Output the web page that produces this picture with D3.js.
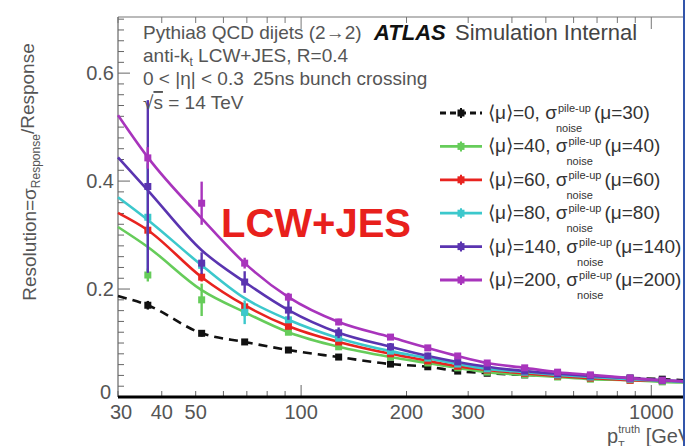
<!DOCTYPE html>
<html>
<head>
<meta charset="utf-8">
<script src="https://cdn.jsdelivr.net/npm/d3@7"></script>
<style>
  body { margin: 0; background: #fff; }
  svg { display: block; font-family: "Liberation Sans", Arial, sans-serif; }
</style>
</head>
<body>
<div id="chart-area"></div>
<script>
const ptPoints = [36.5, 52, 69, 92, 128, 180, 230, 280, 340, 435, 540, 670, 870, 1075]
const ptCurve = [30, 36.5, 52, 69, 92, 128, 180, 230, 280, 340, 435, 540, 670, 870, 1075, 1240]

// fit curves
const curveMu0 = [0.187, 0.170, 0.118, 0.102, 0.087, 0.074, 0.061, 0.056, 0.048, 0.044, 0.041, 0.039, 0.037, 0.035, 0.033, 0.031]
const curveMu40 = [0.315, 0.278, 0.198, 0.157, 0.120, 0.093, 0.074, 0.063, 0.054, 0.046, 0.041, 0.037, 0.033, 0.031, 0.028, 0.027]
const curveMu60 = [0.341, 0.309, 0.222, 0.170, 0.131, 0.102, 0.080, 0.067, 0.057, 0.050, 0.044, 0.039, 0.035, 0.031, 0.030, 0.028]
const curveMu80 = [0.370, 0.328, 0.244, 0.183, 0.143, 0.109, 0.085, 0.072, 0.061, 0.052, 0.046, 0.041, 0.037, 0.033, 0.030, 0.028]
const curveMu140 = [0.444, 0.383, 0.272, 0.213, 0.161, 0.119, 0.093, 0.076, 0.065, 0.056, 0.048, 0.043, 0.039, 0.035, 0.031, 0.029]
const curveMu200 = [0.522, 0.444, 0.331, 0.248, 0.185, 0.139, 0.111, 0.091, 0.076, 0.063, 0.054, 0.046, 0.041, 0.035, 0.031, 0.029]

// measured points and their errors
const valMu0 = [0.170, 0.118, 0.102, 0.087, 0.074, 0.061, 0.056, 0.048, 0.044, 0.041, 0.039, 0.037, 0.035, 0.033]
const errMu0 = [0.008, 0.006, 0.005, 0.004, 0.004, 0.003, 0.003, 0.003, 0.003, 0.003, 0.003, 0.003, 0.003, 0.003]
const valMu40 = [0.226, 0.180, 0.157, 0.120, 0.093, 0.074, 0.063, 0.054, 0.046, 0.041, 0.037, 0.033, 0.031, 0.028]
const errMu40 = [0.012, 0.030, 0.008, 0.005, 0.004, 0.004, 0.003, 0.003, 0.003, 0.003, 0.003, 0.003, 0.003, 0.003]
const valMu60 = [0.309, 0.222, 0.167, 0.131, 0.102, 0.080, 0.067, 0.057, 0.050, 0.044, 0.039, 0.035, 0.031, 0.030]
const errMu60 = [0.010, 0.008, 0.006, 0.005, 0.004, 0.004, 0.003, 0.003, 0.003, 0.003, 0.003, 0.003, 0.003, 0.003]
const valMu80 = [0.333, 0.244, 0.157, 0.143, 0.109, 0.085, 0.072, 0.061, 0.052, 0.046, 0.041, 0.037, 0.033, 0.030]
const errMu80 = [0.100, 0.010, 0.022, 0.006, 0.005, 0.004, 0.003, 0.003, 0.003, 0.003, 0.003, 0.003, 0.003, 0.003]
const valMu140 = [0.390, 0.248, 0.213, 0.161, 0.119, 0.093, 0.076, 0.065, 0.056, 0.048, 0.043, 0.039, 0.035, 0.031]
const errMu140 = [0.160, 0.020, 0.020, 0.018, 0.010, 0.007, 0.006, 0.005, 0.004, 0.004, 0.003, 0.003, 0.003, 0.003]
const valMu200 = [0.443, 0.359, 0.248, 0.185, 0.139, 0.111, 0.091, 0.076, 0.063, 0.054, 0.046, 0.041, 0.035, 0.031]
const errMu200 = [0.020, 0.040, 0.010, 0.008, 0.006, 0.005, 0.004, 0.004, 0.004, 0.003, 0.003, 0.003, 0.003, 0.003]

// legend
const legendMu = ["0", "40", "60", "80", "140", "200"]
const legendMuNoise = ["30", "40", "60", "80", "140", "200"]
const colors = ["#111111", "#66cc5a", "#e8231f", "#3cc8cc", "#5a34b0", "#a834bc"]

const xTickLabels = [30, 40, 50, 100, 200, 300, 1000]
const yTickLabels = [0, 0.2, 0.4, 0.6]

const series = [
  { curve: curveMu0, val: valMu0, err: errMu0 },
  { curve: curveMu40, val: valMu40, err: errMu40 },
  { curve: curveMu60, val: valMu60, err: errMu60 },
  { curve: curveMu80, val: valMu80, err: errMu80 },
  { curve: curveMu140, val: valMu140, err: errMu140 },
  { curve: curveMu200, val: valMu200, err: errMu200 }
]

const W = 685, H = 446
const LEFT = 118, BOTTOM = 397, TOP = 17

const svg = d3.select("#chart-area").append("svg")
  .attr("width", W)
  .attr("height", H)

const x = d3.scaleLog().domain([30, 1240]).range([LEFT, 684])
const y = d3.scaleLinear().domain([0, 0.704]).range([BOTTOM, TOP])

// frame lines
svg.append("line")
  .attr("x1", LEFT).attr("x2", W).attr("y1", TOP).attr("y2", TOP)
  .attr("stroke", "#777").attr("stroke-width", 1.2)
svg.append("line")
  .attr("x1", LEFT).attr("x2", LEFT).attr("y1", TOP).attr("y2", BOTTOM)
  .attr("stroke", "#666").attr("stroke-width", 1.2)

// y ticks (minor every 0.02)
const yMinor = d3.range(0, 0.705, 0.02)
svg.append("g").selectAll("line")
  .data(yMinor)
  .join("line")
  .attr("x1", LEFT)
  .attr("x2", (d, i) => LEFT + (i % 10 === 0 ? 12 : 6))
  .attr("y1", d => y(d)).attr("y2", d => y(d))
  .attr("stroke", "#666").attr("stroke-width", 1)

svg.append("g").selectAll("text")
  .data(yTickLabels)
  .join("text")
  .attr("x", d => d === 0 ? 111 : 114)
  .attr("y", d => y(d))
  .attr("dy", d => d === 0 ? "0.1em" : "0.36em")
  .attr("text-anchor", "end")
  .attr("font-size", "20px")
  .attr("fill", "#555")
  .text(d => d === 0 ? "0" : d.toFixed(1))

// x ticks, bottom and mirrored on top
const xTicks = x.ticks().filter(d => d >= 30)
const tickLen = d => (d === 100 || d === 1000) ? 12 : 6
svg.append("g").selectAll("line")
  .data(xTicks)
  .join("line")
  .attr("x1", d => x(d)).attr("x2", d => x(d))
  .attr("y1", BOTTOM).attr("y2", d => BOTTOM - tickLen(d))
  .attr("stroke", "#666").attr("stroke-width", 1)
svg.append("g").selectAll("line")
  .data(xTicks)
  .join("line")
  .attr("x1", d => x(d)).attr("x2", d => x(d))
  .attr("y1", TOP).attr("y2", d => TOP + tickLen(d))
  .attr("stroke", "#777").attr("stroke-width", 1)

svg.append("g").selectAll("text")
  .data(xTickLabels)
  .join("text")
  .attr("x", d => x(d) + (d === 30 ? 3 : 0))
  .attr("y", 419)
  .attr("text-anchor", "middle")
  .attr("font-size", "20px")
  .attr("fill", "#555")
  .text(d => d)

// thick bottom axis
svg.append("line")
  .attr("x1", LEFT).attr("x2", W).attr("y1", BOTTOM).attr("y2", BOTTOM)
  .attr("stroke", "#000").attr("stroke-width", 3)

// axis titles
const yTitle = svg.append("text")
  .attr("transform", "translate(36, 172) rotate(-90)")
  .attr("text-anchor", "middle")
  .attr("font-size", "19px")
  .attr("fill", "#555")
yTitle.append("tspan").text("Resolution=σ")
yTitle.append("tspan").attr("dy", "0.35em").attr("font-size", "12px").text("Response")
yTitle.append("tspan").attr("dy", "-0.35em").text("/Response")

const xTitle = svg.append("text")
  .attr("x", 607).attr("y", 443)
  .attr("font-size", "20px")
  .attr("fill", "#555")
xTitle.append("tspan").text("p")
xTitle.append("tspan").attr("dy", "-10").attr("font-size", "11px").text("truth")
xTitle.append("tspan").attr("dy", "10").text(" [GeV]")
svg.append("text")
  .attr("x", 618).attr("y", 449)
  .attr("font-size", "11px").attr("fill", "#555")
  .text("T")

// fit curves
const line = d3.line()
  .x((d, i) => x(ptCurve[i]))
  .y(d => y(d))
  .curve(d3.curveMonotoneX)

svg.append("g").selectAll("path")
  .data(series)
  .join("path")
  .attr("fill", "none")
  .attr("stroke", (d, i) => colors[i])
  .attr("stroke-width", 2.6)
  .attr("stroke-dasharray", (d, i) => i === 0 ? "9,6" : null)
  .attr("d", d => line(d.curve))

// points with error bars
series.forEach((s, i) => {
  const g = svg.append("g").attr("fill", colors[i]).attr("stroke", colors[i])
  g.selectAll("line")
    .data(s.val)
    .join("line")
    .attr("x1", (d, j) => x(ptPoints[j])).attr("x2", (d, j) => x(ptPoints[j]))
    .attr("y1", (d, j) => y(d - s.err[j])).attr("y2", (d, j) => y(d + s.err[j]))
    .attr("stroke-width", 2.4)
  g.selectAll("rect")
    .data(s.val)
    .join("rect")
    .attr("x", (d, j) => x(ptPoints[j]) - 3.5)
    .attr("y", d => y(d) - 3.5)
    .attr("width", 7).attr("height", 7)
    .attr("stroke", "none")
})

// annotation text
const ann = svg.append("g").attr("font-size", "19px").attr("fill", "#555")
ann.append("text").attr("x", 143).attr("y", 39).text("Pythia8 QCD dijets (2→2)")
const antiKt = ann.append("text").attr("x", 143).attr("y", 62)
antiKt.append("tspan").text("anti-k")
antiKt.append("tspan").attr("dy", 4).attr("font-size", "12px").text("t")
antiKt.append("tspan").attr("dy", -4).text(" LCW+JES, R=0.4")
ann.append("text").attr("x", 143).attr("y", 85).text("0 < |η| < 0.3")
ann.append("text").attr("x", 253).attr("y", 85).text("25ns bunch crossing")
const sqrtS = ann.append("text").attr("x", 143).attr("y", 109)
sqrtS.append("tspan").text("√")
sqrtS.append("tspan").attr("text-decoration", "overline").text("s")
sqrtS.append("tspan").text(" = 14 TeV")

svg.append("text")
  .attr("x", 374).attr("y", 40)
  .attr("font-size", "22px").attr("font-weight", "bold").attr("font-style", "italic")
  .attr("fill", "#111")
  .text("ATLAS")
svg.append("text")
  .attr("x", 455).attr("y", 40)
  .attr("font-size", "22px").attr("fill", "#444")
  .text("Simulation Internal")

svg.append("text")
  .attr("x", 221).attr("y", 237)
  .attr("font-size", "40px").attr("font-weight", "bold")
  .attr("fill", "#e8201c")
  .text("LCW+JES")

// legend
const legend = svg.append("g")
legendMu.forEach((mu, i) => {
  const cy = 113 + i * 33.4
  const row = legend.append("g")
  row.append("line")
    .attr("x1", 440).attr("x2", 482).attr("y1", cy).attr("y2", cy)
    .attr("stroke", colors[i]).attr("stroke-width", 2.8)
    .attr("stroke-dasharray", i === 0 ? "6,4" : null)
  row.append("line")
    .attr("x1", 461).attr("x2", 461).attr("y1", cy - 5).attr("y2", cy + 5)
    .attr("stroke", colors[i]).attr("stroke-width", 2)
  row.append("rect")
    .attr("x", 457.5).attr("y", cy - 3.5).attr("width", 7).attr("height", 7)
    .attr("fill", colors[i])
  const t1 = row.append("text")
    .attr("x", 488).attr("y", cy + 6)
    .attr("font-size", "19px").attr("fill", "#333")
    .text(`⟨μ⟩=${mu}, σ`)
  const w = t1.node().getComputedTextLength()
  row.append("text")
    .attr("x", 488 + w + 1).attr("y", cy - 1)
    .attr("font-size", "11px").attr("fill", "#333")
    .text("pile-up")
  row.append("text")
    .attr("x", 488 + w - 1).attr("y", cy + 19)
    .attr("font-size", "11px").attr("fill", "#333")
    .text("noise")
  row.append("text")
    .attr("x", 488 + w + 37).attr("y", cy + 6)
    .attr("font-size", "19px").attr("fill", "#333")
    .text(`(μ=${legendMuNoise[i]})`)
})

// slide border on the right
svg.append("line")
  .attr("x1", 684).attr("x2", 684).attr("y1", 0).attr("y2", H)
  .attr("stroke", "#3355aa").attr("stroke-width", 2)
</script>
</body>
</html>
